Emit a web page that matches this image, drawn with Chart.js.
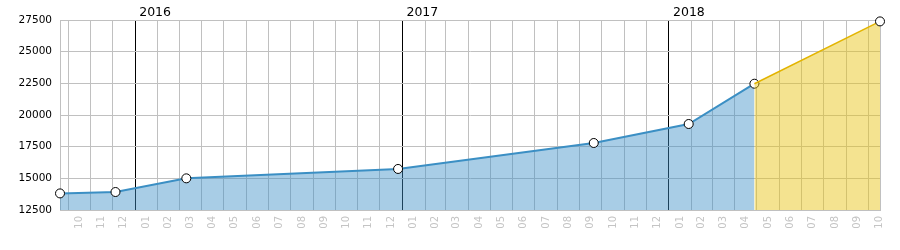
<!DOCTYPE html>
<html>
<head>
<meta charset="utf-8">
<script src="https://cdn.jsdelivr.net/npm/chart.js@4/dist/chart.umd.min.js"></script>
<style>
  html, body { margin: 0; padding: 0; background: #fff; }
  #wrap { width: 900px; height: 250px; }
</style>
</head>
<body>
<div id="wrap"><canvas id="myChart"></canvas></div>
<script>
// measured points (date, value)
const actualDates = ['2015-09-20', '2015-12-05', '2016-03-11', '2016-12-26', '2017-09-20', '2018-01-28', '2018-04-28'];
const actualValues = [13810, 13920, 15000, 15740, 17790, 19290, 22470];
// forecast
const forecastDates = ['2018-04-28', '2018-10-17'];
const forecastValues = [22470, 27390];

const yTicks = [12500, 15000, 17500, 20000, 22500, 25000, 27500];
const monthLabels = ['01','02','03','04','05','06','07','08','09','10','11','12'];

const DAY = 86400000;
function dayNum(s){
    const p = s.split('-');
    return Date.UTC(+p[0], +p[1]-1, +p[2]) / DAY;
}
function monthStart(y, m){ return Date.UTC(y, m, 1) / DAY; }

const xMin = dayNum(actualDates[0]);
const xMax = dayNum(forecastDates[forecastDates.length-1]);

// month boundaries (grid) and mid-month points (labels)
let gridTicks = [];
let labelTicks = [];
for(let y=2015; y<=2018; y++){
    for(let m=0; m<12; m++){
        const s = monthStart(y, m);
        const e = monthStart(y, m+1);
        if(s >= xMin && s <= xMax) gridTicks.push({value: s, month: m, year: y});
        const mid = (s + e) / 2;
        if(mid >= xMin && mid <= xMax + 1) labelTicks.push({value: Math.min(mid, xMax), month: m});
    }
}
gridTicks.push({value: xMax, month: -1, year: 0});

const actualData = actualDates.map((d, i) => ({x: dayNum(d), y: actualValues[i]}));
const forecastData = forecastDates.map((d, i) => ({x: dayNum(d), y: forecastValues[i]}));

const ctx = document.getElementById('myChart').getContext('2d');
const myChart = new Chart(ctx, {
  type: 'line',
  data: {
    datasets: [{
      data: actualData,
      xAxisID: 'xTop',
      borderColor: '#3b8fc4',
      backgroundColor: 'rgba(63, 145, 199, 0.45)',
      borderWidth: 2,
      fill: 'start',
      tension: 0,
      pointRadius: 4.5,
      pointBorderWidth: 1,
      pointBorderColor: '#000',
      pointBackgroundColor: '#fff',
      clip: 6,
      order: 1
    },{
      data: forecastData,
      xAxisID: 'xTop',
      borderColor: '#e3b400',
      backgroundColor: 'rgba(232, 196, 20, 0.47)',
      borderWidth: 1.5,
      fill: 'start',
      tension: 0,
      pointRadius: [0, 4.5],
      pointBorderWidth: 1,
      pointBorderColor: '#000',
      pointBackgroundColor: '#fff',
      clip: 6,
      order: 0
    }]
  },
  options: {
    responsive: true,
    maintainAspectRatio: false,
    animation: false,
    layout: { padding: { right: 20 } },
    plugins: { legend: { display: false }, tooltip: { enabled: false } },
    scales: {
      xTop: {
        type: 'linear',
        position: 'top',
        min: xMin,
        max: xMax,
        afterBuildTicks: function(scale){
          scale.ticks = gridTicks.map(t => ({value: t.value}));
        },
        afterFit: function(scale){ scale.height = 20; },
        grid: {
          drawTicks: false,
          lineWidth: 1,
          color: function(c){
            const t = gridTicks[c.index];
            return (t && t.month === 0) ? '#000' : '#c0c0c0';
          }
        },
        border: { display: true, color: '#c0c0c0' },
        ticks: {
          autoSkip: false,
          maxRotation: 0,
          align: 'start',
          labelOffset: 4,
          padding: 0,
          color: '#000',
          font: { family: 'DejaVu Sans', size: 12.5 },
          callback: function(v, i){
            const t = gridTicks[i];
            return (t && t.month === 0) ? String(t.year) : '';
          }
        }
      },
      xBottom: {
        type: 'linear',
        position: 'bottom',
        min: xMin,
        max: xMax,
        afterBuildTicks: function(scale){
          scale.ticks = labelTicks.map(t => ({value: t.value}));
        },
        afterFit: function(scale){ scale.height = 40; },
        grid: { display: false, drawTicks: false },
        border: { display: true, color: '#c0c0c0' },
        ticks: {
          autoSkip: false,
          minRotation: 90,
          maxRotation: 90,
          padding: 6,
          color: '#c4c4c4',
          font: { family: 'DejaVu Sans', size: 10 },
          callback: function(v, i){
            const t = labelTicks[i];
            return t ? monthLabels[t.month] : '';
          }
        }
      },
      y: {
        min: 12500,
        max: 27500,
        afterBuildTicks: function(scale){
          scale.ticks = yTicks.map(v => ({value: v}));
        },
        afterFit: function(scale){ scale.width = 60; },
        grid: { drawTicks: false, color: '#c0c0c0' },
        border: { display: true, color: '#c0c0c0' },
        ticks: {
          padding: 8,
          color: '#000',
          font: { family: 'DejaVu Sans', size: 10.5 },
          callback: function(v){ return String(v); }
        }
      }
    }
  }
});
</script>
</body>
</html>
